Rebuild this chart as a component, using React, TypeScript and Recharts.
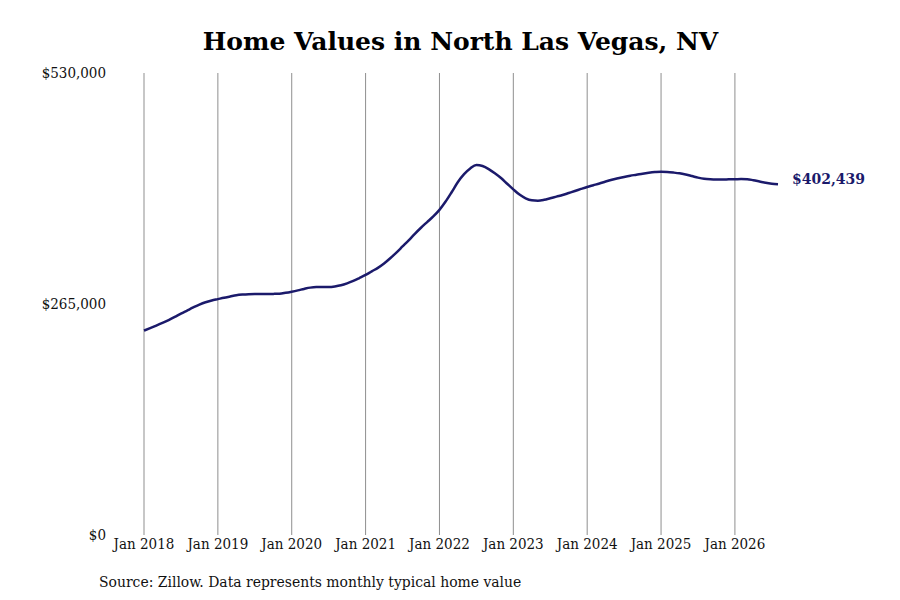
import React from 'react';
import { LineChart, Line, XAxis, YAxis, CartesianGrid } from 'recharts';

const startYear = 2018;
const yTicks = [0, 265000, 530000];
const xTicks = [0, 12, 24, 36, 48, 60, 72, 84, 96];

// monthly typical home value, Jan 2018 .. Aug 2026
const values = [
  234500, 237300, 240200, 243300, 246600, 250200, 254000, 257500, 261000, 264300, 267000, 269000,
  270600, 272200, 273600, 275000, 275800, 276300, 276500, 276500, 276500, 276600, 276800, 277800,
  279100, 280600, 282300, 283800, 284400, 284400, 284500, 285200, 286500, 288700, 291500, 294800,
  298300, 302500, 306500, 311500, 317500, 324000, 331000, 338000, 345500, 352500, 359000, 365500,
  373000, 382500, 393500, 405000, 414000, 420500, 424500, 423300, 419800, 415000, 409500, 403000,
  396500, 390500, 386300, 384000, 383500, 384500, 386300, 388200, 390000, 392300, 394600, 397000,
  399300, 401300, 403300, 405500, 407500, 409200, 410800, 412200, 413300, 414500, 415500, 416300,
  416800, 416500, 415800, 414900, 413500, 411800, 410000, 408600, 408000, 407800, 407800, 408000,
  408100, 408300, 408200, 407000, 405500, 404000, 403000, 402439,
];

const data = values.map((v, i) => ({ month: i, value: v }));
const lastIndex = values.length - 1;

const LINE_COLOR = '#1b1a6b';
const tickFont = { fontFamily: '"DejaVu Serif Condensed", "DejaVu Serif", serif', fontSize: 15, fill: '#111' };

const fmtMoney = (v: number) => '$' + v.toLocaleString('en-US');

const EndLabel = (props: any) => {
  const { x, y, index } = props;
  if (index !== lastIndex) return null;
  return (
    <text
      x={x + 14}
      y={y}
      dy={0}
      fill={LINE_COLOR}
      fontFamily='"DejaVu Serif", serif'
      fontWeight="bold"
      fontSize={14}
    >
      {fmtMoney(values[lastIndex])}
    </text>
  );
};

export default function App() {
  return (
    <div style={{ position: 'relative', width: 884, height: 584 }}>
      <div
        style={{
          position: 'absolute',
          top: 19,
          left: 0,
          width: 905,
          textAlign: 'center',
          fontFamily: '"DejaVu Serif", serif',
          fontWeight: 'bold',
          fontSize: 25,
          color: '#000',
        }}
      >
        Home Values in North Las Vegas, NV
      </div>
      <LineChart width={884} height={584} data={data} margin={{ top: 65, right: 114, bottom: 27, left: 0 }}>
        <CartesianGrid
          vertical
          horizontal={false}
          stroke="#8f8f8f"
          verticalCoordinatesGenerator={({ offset }: any) =>
            xTicks.map((t) => offset.left + (t / lastIndex) * offset.width)
          }
        />
        <XAxis
          dataKey="month"
          type="number"
          domain={[0, lastIndex]}
          ticks={xTicks}
          tickFormatter={(m: number) => `Jan ${startYear + m / 12}`}
          axisLine={false}
          tickLine={false}
          tickSize={0}
          tickMargin={3}
          height={30}
          tick={tickFont}
          interval={0}
        />
        <YAxis
          domain={[0, 530000]}
          ticks={yTicks}
          tickFormatter={fmtMoney}
          axisLine={false}
          tickLine={false}
          tickSize={0}
          tickMargin={38}
          width={136}
          tick={tickFont}
          interval={0}
        />
        <Line
          type="monotone"
          dataKey="value"
          stroke={LINE_COLOR}
          strokeWidth={2.5}
          dot={false}
          isAnimationActive={false}
          label={<EndLabel />}
        />
      </LineChart>
      <div
        style={{
          position: 'absolute',
          top: 565,
          left: 91,
          fontFamily: '"DejaVu Serif Condensed", "DejaVu Serif", serif',
          fontSize: 15.5,
          color: '#111',
          whiteSpace: 'nowrap',
        }}
      >
        Source: Zillow. Data represents monthly typical home value
      </div>
    </div>
  );
}
